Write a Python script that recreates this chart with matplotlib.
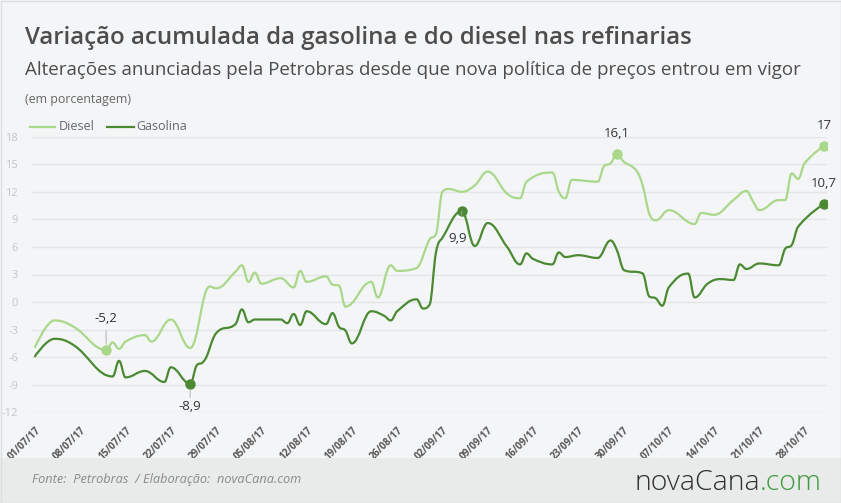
import numpy as np
import pandas as pd
import matplotlib
matplotlib.use("Agg")
import matplotlib.pyplot as plt
from matplotlib.path import Path
from matplotlib.patches import PathPatch, Rectangle

plt.rcParams['font.family'] = ['Open Sans', 'DejaVu Sans']

# ---------------- data ----------------
start = pd.Timestamp("2017-07-01")
diesel_days = [0, 3, 6, 11, 12, 13, 14, 17, 18, 21, 24, 27, 28, 31, 32, 33, 34, 35, 38, 40, 41, 42,
               45, 46, 47, 48, 52, 53, 55, 56, 59, 61, 62, 63, 64, 66, 68, 70, 73, 75, 76, 80, 81,
               82, 83, 87, 88, 89, 90, 91, 93, 94, 95, 96, 98, 102, 103, 105, 108, 110, 111, 112,
               115, 116, 117, 118, 119, 122]
diesel_vals = [-4.9, -2.0, -2.7, -5.2, -4.4, -5.1, -4.3, -3.6, -4.3, -1.9, -5.0, 1.7, 1.5, 3.3, 4.0,
               2.2, 3.2, 2.0, 2.6, 1.6, 3.4, 2.2, 2.8, 1.9, 1.8, -0.5, 2.2, 0.5, 4.0, 3.4, 3.7, 6.8,
               7.4, 12.0, 12.3, 12.0, 12.7, 14.2, 11.8, 11.3, 13.1, 14.1, 12.0, 11.3, 13.3, 13.1,
               14.8, 15.1, 16.1, 15.3, 14.3, 12.6, 9.6, 8.9, 10.0, 8.5, 9.7, 9.5, 11.1, 12.1, 11.0,
               10.0, 11.1, 11.1, 14.0, 13.4, 15.1, 17.0]
gasolina_days = [0, 3, 6, 12, 13, 14, 17, 20, 21, 24, 25, 26, 28, 31, 32, 33, 34, 38, 39, 40, 41, 42,
                 45, 46, 47, 48, 49, 52, 54, 55, 56, 59, 60, 61, 62, 63, 66, 68, 70, 73, 75, 76, 77,
                 80, 81, 82, 84, 87, 89, 90, 91, 94, 95, 96, 97, 98, 101, 102, 104, 106, 108, 109,
                 110, 112, 115, 116, 117, 118, 122]
gasolina_vals = [-5.9, -4.0, -4.7, -8.1, -6.4, -8.2, -7.5, -8.7, -7.1, -8.9, -6.9, -6.5, -3.4, -2.4,
                 -0.8, -2.2, -1.9, -1.9, -2.3, -1.3, -2.5, -1.0, -2.4, -1.2, -2.7, -3.1, -4.5, -1.0,
                 -1.5, -2.0, -1.0, 0.3, -0.7, -0.3, 5.4, 7.0, 9.9, 6.1, 8.6, 6.0, 4.1, 5.3, 4.7, 4.1,
                 5.4, 4.9, 5.1, 4.8, 6.7, 5.6, 3.5, 3.1, 0.6, 0.4, -0.4, 1.6, 3.1, 0.5, 2.0, 2.5, 2.4,
                 4.1, 3.6, 4.2, 4.0, 5.8, 6.2, 8.2, 10.7]
highlights_diesel = [(11, "-5,2"), (90, "16,1"), (122, "17")]
highlights_gasolina = [(24, "-8,9"), (66, "9,9"), (122, "10,7")]
yticks = [-12, -9, -6, -3, 0, 3, 6, 9, 12, 15, 18]
xtick_labels = ["01/07/17", "08/07/17", "15/07/17", "22/07/17", "29/07/17", "05/08/17", "12/08/17",
                "19/08/17", "26/08/17", "02/09/17", "09/09/17", "16/09/17", "23/09/17", "30/09/17",
                "07/10/17", "14/10/17", "21/10/17", "28/10/17"]

C_DIESEL = "#a9d88b"
C_GAS = "#4b8a33"

# ---------------- helpers ----------------
def spline_path(x, y, smoothing=1.5):
    x = np.asarray(x, float); y = np.asarray(y, float)
    n = len(x)
    lc = [None] * n; rc = [None] * n
    for i in range(n):
        if 0 < i < n - 1:
            d = smoothing + 1
            lx = (smoothing * x[i] + x[i-1]) / d
            ly = (smoothing * y[i] + y[i-1]) / d
            rx = (smoothing * x[i] + x[i+1]) / d
            ry = (smoothing * y[i] + y[i+1]) / d
            if rx != lx:
                corr = (ry - ly) * (rx - x[i]) / (rx - lx) + y[i] - ry
                ly += corr; ry += corr
            if ly > y[i-1] and ly > y[i]:
                ly = max(y[i-1], y[i]); ry = 2 * y[i] - ly
            elif ly < y[i-1] and ly < y[i]:
                ly = min(y[i-1], y[i]); ry = 2 * y[i] - ly
            if ry > y[i+1] and ry > y[i]:
                ry = max(y[i+1], y[i]); ly = 2 * y[i] - ry
            elif ry < y[i+1] and ry < y[i]:
                ry = min(y[i+1], y[i]); ly = 2 * y[i] - ry
            lc[i] = (lx, ly); rc[i] = (rx, ry)
        else:
            lc[i] = (x[i], y[i]); rc[i] = (x[i], y[i])
    verts = [(x[0], y[0])]
    codes = [Path.MOVETO]
    for i in range(1, n):
        verts += [rc[i-1], lc[i], (x[i], y[i])]
        codes += [Path.CURVE4] * 3
    return Path(verts, codes)

W, H = 841, 503
fig = plt.figure(figsize=(W/100, H/100), dpi=100)
fig.patch.set_facecolor("#f4f5f7")

fig.patches.append(Rectangle((0, 0), 1, (H-458)/H, transform=fig.transFigure,
                             facecolor="#e9eaea", edgecolor="none", zorder=0))
fig.patches.append(Rectangle((0.5/W, 0.5/H), (W-1)/W, (H-1)/H, transform=fig.transFigure,
                             facecolor="none", edgecolor="#dcdedf", lw=1, zorder=1))

x0, x1 = 32, 827
ytop, ybot = 136.7, 412.3
ax = fig.add_axes([x0/W, 1-ybot/H, (x1-x0)/W, (ybot-ytop)/H])
ax.set_facecolor("none")
px_per_day = (824-35)/122.0
ax.set_xlim(-(35-x0)/px_per_day, 122 + (x1-824)/px_per_day)
ax.set_ylim(-12, 18)
for s in ax.spines.values():
    s.set_visible(False)
ax.set_yticks(yticks)
ax.set_yticklabels([str(v) for v in yticks])
ax.tick_params(axis='y', length=0, pad=10, labelsize=8, labelcolor="#c3c5c7")
ax.grid(axis='y', color="#e3e5e7", lw=1)
ax.set_axisbelow(True)

tick_pos = [(pd.to_datetime(t, format="%d/%m/%y") - start).days for t in xtick_labels]
ax.set_xticks(tick_pos)
ax.set_xticklabels(xtick_labels, rotation=45, ha='right', va='top', rotation_mode='anchor',
                   fontsize=7, fontweight='bold', color="#555555")
ax.tick_params(axis='x', length=0, pad=9)

for days, vals, col in [(diesel_days, diesel_vals, C_DIESEL), (gasolina_days, gasolina_vals, C_GAS)]:
    p = spline_path(days, vals)
    ax.add_patch(PathPatch(p, facecolor='none', edgecolor=col, lw=1.6, capstyle='round',
                           joinstyle='round', zorder=3))

def val_at(days, vals, d):
    return vals[days.index(d)]

for d, lab in highlights_diesel:
    ax.plot([d], [val_at(diesel_days, diesel_vals, d)], 'o', color=C_DIESEL, ms=6.5, zorder=4)
for d, lab in highlights_gasolina:
    ax.plot([d], [val_at(gasolina_days, gasolina_vals, d)], 'o', color=C_GAS, ms=6.5, zorder=4)

lab_kw = dict(fontsize=9.5, color="#333333", ha='center', va='baseline', zorder=5)
d, lab = highlights_diesel[0]; v = val_at(diesel_days, diesel_vals, d)
ax.annotate(lab, xy=(d, v), xytext=(0, 20), textcoords='offset points', **lab_kw,
            arrowprops=dict(arrowstyle='-', color="#bbbbbb", lw=0.8, shrinkA=2, shrinkB=4))
d, lab = highlights_diesel[1]; v = val_at(diesel_days, diesel_vals, d)
ax.annotate(lab, xy=(d, v), xytext=(0, 12), textcoords='offset points', **lab_kw)
d, lab = highlights_diesel[2]; v = val_at(diesel_days, diesel_vals, d)
ax.annotate(lab, xy=(d, v), xytext=(0, 12), textcoords='offset points', **lab_kw)
d, lab = highlights_gasolina[0]; v = val_at(gasolina_days, gasolina_vals, d)
ax.annotate(lab, xy=(d, v), xytext=(0, -19), textcoords='offset points', **lab_kw,
            arrowprops=dict(arrowstyle='-', color="#bbbbbb", lw=0.8, shrinkA=10, shrinkB=4))
d, lab = highlights_gasolina[1]; v = val_at(gasolina_days, gasolina_vals, d)
ax.annotate(lab, xy=(d, v), xytext=(-3, -22), textcoords='offset points', **lab_kw,
            arrowprops=dict(arrowstyle='-', color="#999999", lw=0.8, shrinkA=10, shrinkB=4))
d, lab = highlights_gasolina[2]; v = val_at(gasolina_days, gasolina_vals, d)
ax.annotate(lab, xy=(d, v), xytext=(0, 12), textcoords='offset points', **lab_kw)

def ftext(x, y, s, **kw):
    return fig.text(x/W, 1-y/H, s, va='baseline', **kw)

ftext(25, 44, "Variação acumulada da gasolina e do diesel nas refinarias",
      fontsize=17.3, fontweight='semibold', color="#4d4d4d")
ftext(25, 75, "Alterações anunciadas pela Petrobras desde que nova política de preços entrou em vigor",
      fontsize=13.5, color="#4d4d4d")
ftext(25, 102.5, "(em porcentagem)", fontsize=8.9, color="#666666")

fig.lines.append(plt.Line2D([30/W, 55/W], [1-126.5/H]*2, color=C_DIESEL, lw=1.6, transform=fig.transFigure))
ftext(59, 130.5, "Diesel", fontsize=9, color="#666666")
fig.lines.append(plt.Line2D([107/W, 134/W], [1-126.5/H]*2, color=C_GAS, lw=1.6, transform=fig.transFigure))
ftext(136, 130.5, "Gasolina", fontsize=9, color="#666666")

ftext(32, 483.5, "Fonte:  Petrobras  / Elaboração:  novaCana.com", fontsize=9.2,
      style='italic', color="#8a8a8a")
fig.text(760/W, 1-490/H, "novaCana", fontsize=20.5, fontweight='light', color="#2f2f2f",
         ha='right', va='baseline')
fig.text(760/W, 1-490/H, ".com", fontsize=20.5, fontweight='light', color="#3d9a3d",
         ha='left', va='baseline')

fig.savefig("out.png", dpi=100, facecolor=fig.get_facecolor())
